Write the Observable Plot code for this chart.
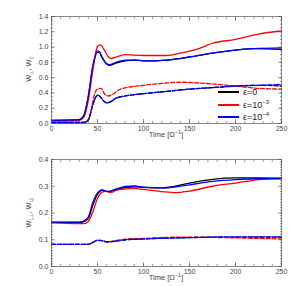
<!DOCTYPE html>
<html><head><meta charset="utf-8">
<script src="https://cdn.jsdelivr.net/npm/d3@7"></script>
<script src="https://cdn.jsdelivr.net/npm/@observablehq/plot@0.6"></script>
<style>
body{margin:0;background:#fff;font-family:"Liberation Sans",Arial,sans-serif;}
#wrap{position:relative;width:306px;}
.leg{position:absolute;font-size:9px;color:#222;display:flex;align-items:center;}
.leg span.l{display:inline-block;width:21px;height:0;border-top:2px solid;margin-right:4px;}
sup{font-size:6px;}
</style>
</head><body><div id="wrap"></div>
<script>
// ---- data ----
const seriesNames = ["ε=0", "ε=10⁻³", "ε=10⁻⁴"];
const seriesColors = ["#000000", "#ff0000", "#0000ff"];

// top panel: W_perp (solid) and W_par (dashed)
const topPerpT0 = [0,30,35,40,45,50,52,55,60,63,70,80,90,100,110,125,150,175,200,220,250];
const topPerpV0 = [0.04,0.05,0.10,0.35,0.75,0.93,0.93,0.86,0.78,0.76,0.79,0.82,0.83,0.82,0.82,0.83,0.87,0.92,0.96,0.98,0.97];
const topPerpT1 = [0,30,35,40,45,50,53,57,62,65,70,80,100,125,140,160,175,200,225,250];
const topPerpV1 = [0.03,0.04,0.08,0.30,0.70,1.01,1.03,0.97,0.87,0.85,0.87,0.90,0.89,0.89,0.92,0.98,1.05,1.10,1.17,1.21];
const topPerpT2 = [0,30,35,40,45,50,52,55,60,63,70,80,90,100,110,125,150,175,200,220,250];
const topPerpV2 = [0.04,0.05,0.10,0.36,0.76,0.95,0.94,0.87,0.78,0.77,0.80,0.83,0.83,0.82,0.82,0.83,0.87,0.92,0.96,0.98,0.99];

const topParT0 = [0,35,40,45,50,53,57,60,65,70,80,100,125,150,175,200,225,250];
const topParV0 = [0.01,0.01,0.05,0.25,0.37,0.35,0.29,0.27,0.29,0.33,0.36,0.39,0.42,0.45,0.47,0.49,0.50,0.49];
const topParT1 = [0,38,42,46,50,54,58,62,66,75,100,125,140,160,200,225,250];
const topParV1 = [0.02,0.02,0.10,0.35,0.45,0.46,0.38,0.36,0.38,0.45,0.50,0.53,0.54,0.53,0.49,0.46,0.45];
const topParT2 = [0,35,40,45,50,53,57,60,65,70,80,100,125,150,175,200,225,250];
const topParV2 = [0.01,0.01,0.05,0.25,0.37,0.35,0.29,0.27,0.29,0.33,0.36,0.39,0.42,0.45,0.47,0.49,0.50,0.51];

// bottom panel: W_Lperp (solid) and W_Lpar (dashed)
const botPerpT0 = [0,30,35,40,45,50,55,60,65,70,80,90,100,120,135,150,175,200,225,250];
const botPerpV0 = [0.165,0.165,0.168,0.18,0.23,0.27,0.285,0.28,0.282,0.288,0.295,0.298,0.296,0.294,0.300,0.312,0.326,0.331,0.331,0.330];
const botPerpT1 = [0,30,35,40,45,50,55,60,63,66,70,80,90,100,120,135,150,175,200,225,250];
const botPerpV1 = [0.163,0.160,0.160,0.168,0.205,0.255,0.278,0.282,0.277,0.278,0.285,0.290,0.292,0.288,0.280,0.276,0.282,0.300,0.312,0.325,0.330];
const botPerpT2 = [0,30,35,40,45,50,55,60,65,70,80,90,100,120,135,150,175,200,225,250];
const botPerpV2 = [0.166,0.166,0.170,0.185,0.24,0.275,0.286,0.281,0.283,0.289,0.299,0.301,0.297,0.294,0.298,0.305,0.318,0.325,0.328,0.328];

const botParT0 = [0,40,45,50,55,60,65,70,80,100,125,150,200,250];
const botParV0 = [0.083,0.083,0.090,0.098,0.097,0.092,0.093,0.095,0.100,0.103,0.106,0.108,0.110,0.110];
const botParT1 = [0,40,45,50,55,60,65,70,80,100,125,150,200,250];
const botParV1 = [0.083,0.083,0.090,0.098,0.097,0.092,0.094,0.097,0.102,0.105,0.109,0.110,0.107,0.103];
const botParT2 = [0,40,45,50,55,60,65,70,80,100,125,150,200,250];
const botParV2 = [0.083,0.083,0.090,0.098,0.097,0.092,0.093,0.095,0.100,0.103,0.106,0.108,0.111,0.111];

const xTicks = [0,50,100,150,200,250];
const topYTicks = [0,0.2,0.4,0.6,0.8,1.0,1.2,1.4];
const botYTicks = [0,0.1,0.2,0.3,0.4];

// ---- helpers ----
const dashStyles = ["4,2", "4,2", "4,1.5,1,1.5"];
function rows(t, v) { return t.map((x, i) => ({t: x, v: v[i]})); }
const noLabel = () => "";

function panel(solid, dashed, yMax, yTicks, yMinorStep, labelParts) {
  const marks = [];
  const order = [0, 1, 2];
  order.forEach(i => {
    marks.push(Plot.line(dashed[i], {x: "t", y: "v", stroke: seriesColors[i], strokeWidth: 1.3, strokeDasharray: dashStyles[i], curve: "monotone-x"}));
  });
  order.forEach(i => {
    marks.push(Plot.line(solid[i], {x: "t", y: "v", stroke: seriesColors[i], strokeWidth: 1.3, curve: "monotone-x"}));
  });
  const xMinor = d3.range(0, 251, 10);
  const yMinor = d3.range(0, yMax + 1e-9, yMinorStep);
  const axStyle = {stroke: "#555", strokeWidth: 0.6};
  marks.push(
    Plot.axisX(xMinor, {anchor: "bottom", tickSize: -2, tickFormat: noLabel, label: null, ...axStyle}),
    Plot.axisX(xMinor, {anchor: "top", tickSize: -2, tickFormat: noLabel, label: null, ...axStyle}),
    Plot.axisX(xTicks, {anchor: "bottom", tickSize: -4, tickPadding: 7, fontSize: 7, fill: "#444", label: null, ...axStyle}),
    Plot.axisX(xTicks, {anchor: "top", tickSize: -4, tickFormat: noLabel, label: null, ...axStyle}),
    Plot.axisY(yMinor, {anchor: "left", tickSize: -2, tickFormat: noLabel, label: null, ...axStyle}),
    Plot.axisY(yMinor, {anchor: "right", tickSize: -2, tickFormat: noLabel, label: null, ...axStyle}),
    Plot.axisY(yTicks, {anchor: "left", tickSize: -4, tickPadding: 7, fontSize: 7, fill: "#444", tickFormat: d3.format(".1f"), label: null, ...axStyle}),
    Plot.axisY(yTicks, {anchor: "right", tickSize: -4, tickFormat: noLabel, label: null, ...axStyle}),
    Plot.frame({stroke: "#555", strokeWidth: 0.7})
  );
  const svg = Plot.plot({
    width: 306, height: 143,
    marginTop: 16, marginBottom: 20, marginLeft: 51, marginRight: 25,
    style: {fontFamily: "Liberation Sans, Arial, sans-serif", background: "#fff"},
    x: {domain: [0, 250]},
    y: {domain: [0, yMax]},
    marks
  });
  const s = d3.select(svg);
  const xl = s.append("text").attr("x", (51 + 281) / 2).attr("y", 137).attr("text-anchor", "middle")
    .attr("font-size", 7.5).attr("fill", "#444");
  xl.append("tspan").text("Time [Ω");
  xl.append("tspan").attr("dy", -3).attr("font-size", 5.5).text("−1");
  xl.append("tspan").attr("dy", 3).text("]");
  const yl = s.append("text").attr("transform", "translate(31,69) rotate(-90)").attr("text-anchor", "middle")
    .attr("font-size", 7.5).attr("fill", "#444");
  labelParts.forEach(p => {
    if (p.sub) yl.append("tspan").attr("dy", 2).attr("font-size", 5).text(p.text);
    else yl.append("tspan").attr("dy", p.up ? -2 : 0).text(p.text);
  });
  return svg;
}

const topSolid = [rows(topPerpT0, topPerpV0), rows(topPerpT1, topPerpV1), rows(topPerpT2, topPerpV2)];
const topDash = [rows(topParT0, topParV0), rows(topParT1, topParV1), rows(topParT2, topParV2)];
const botSolid = [rows(botPerpT0, botPerpV0), rows(botPerpT1, botPerpV1), rows(botPerpT2, botPerpV2)];
const botDash = [rows(botParT0, botParV0), rows(botParT1, botParV1), rows(botParT2, botParV2)];

const wrap = document.getElementById("wrap");
const topPanel = panel(topSolid, topDash, 1.4, topYTicks, 0.05,
  [{text: "W"}, {text: "⊥", sub: true}, {text: ", W", up: true}, {text: "∥", sub: true}]);
const botPanel = panel(botSolid, botDash, 0.4, botYTicks, 0.01,
  [{text: "W"}, {text: "L⊥", sub: true}, {text: ", W", up: true}, {text: "L∥", sub: true}]);
wrap.appendChild(topPanel);
wrap.appendChild(botPanel);

// legend (inside top panel, lower right)
const legTops = [87, 99, 111];
const legExps = [null, "−3", "−4"];
seriesNames.forEach((n, i) => {
  const d = document.createElement("div");
  d.className = "leg";
  d.style.left = "218px";
  d.style.top = legTops[i] + "px";
  const l = document.createElement("span");
  l.className = "l";
  l.style.borderColor = seriesColors[i];
  d.appendChild(l);
  const txt = document.createElement("span");
  if (legExps[i] === null) txt.textContent = n;
  else txt.innerHTML = "ε=10<sup>" + legExps[i] + "</sup>";
  d.appendChild(txt);
  wrap.appendChild(d);
});
</script>
</body></html>
